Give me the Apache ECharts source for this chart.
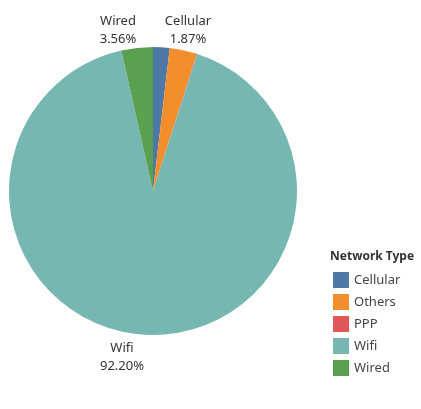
<!DOCTYPE html>
<html><head><meta charset="utf-8">
<script src="https://cdn.jsdelivr.net/npm/echarts@6/dist/echarts.min.js"></script>
<style>html,body{margin:0;padding:0;background:#fff}#c{width:421px;height:409px}</style>
</head><body><div id="c"></div>
<script>
const categories = ['Cellular', 'Others', 'PPP', 'Wifi', 'Wired'];
const shares = [1.87, 3.1, 0.05, 92.20, 3.56];
const labelled = ['Cellular', 'Wifi', 'Wired'];
const colors = ['#4e79a7', '#f28e2b', '#e15759', '#76b7b2', '#59a14f'];
const labelSpots = { Cellular: [188, 30], Wired: [118, 30], Wifi: [122, 357] };
const font = '"Noto Sans", sans-serif';

const chart = echarts.init(document.getElementById('c'));
chart.setOption({
  animation: false,
  color: colors,
  graphic: [{ type: 'text', left: 330, top: 251, style: { text: 'Network Type', font: 'bold 12px ' + font, fill: '#333' } }],
  legend: {
    orient: 'vertical', left: 333, top: 272, padding: 0, itemWidth: 16, itemHeight: 16, itemGap: 6,
    icon: 'rect', data: categories,
    textStyle: { fontFamily: font, fontSize: 13, color: '#444' }
  },
  series: [{
    type: 'pie', center: [153, 191], radius: 144, startAngle: 90, clockwise: true,
    avoidLabelOverlap: false,
    itemStyle: { borderWidth: 0 },
    label: {
      show: true, position: 'outside', fontFamily: font, fontSize: 13, color: '#333',
      lineHeight: 18, align: 'center',
      formatter: p => labelled.includes(p.name) ? p.name + '\n' + p.value.toFixed(2) + '%' : ''
    },
    labelLine: { show: false },
    labelLayout: p => {
      const s = labelSpots[categories[p.dataIndex]];
      return s ? { x: s[0], y: s[1], align: 'center', verticalAlign: 'middle' } : {};
    },
    data: categories.map((c, i) => ({ name: c, value: shares[i] }))
  }]
});
</script></body></html>
